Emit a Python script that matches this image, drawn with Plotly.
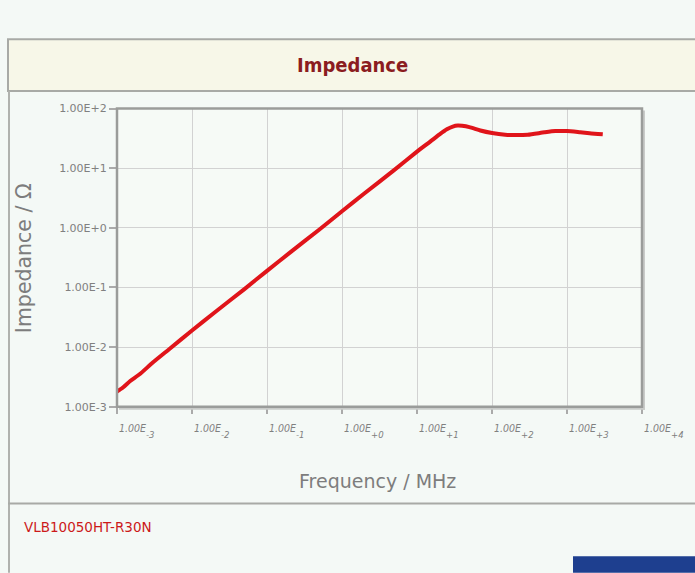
import plotly.graph_objects as go
import math

# Data (frequency in MHz, impedance in ohm)
freq_mhz = [0.001, 0.0012, 0.0015, 0.002, 0.003, 0.005, 0.01, 0.02, 0.05, 0.1, 0.2, 0.5,
            1, 2, 5, 10, 15, 20, 25, 30, 35, 40, 50, 70, 100, 150, 200, 300, 500, 700,
            1000, 1500, 2000, 3000]
impedance_ohm = [0.0018, 0.0021, 0.0027, 0.0035, 0.0055, 0.0093, 0.019, 0.038, 0.094, 0.19,
                 0.38, 0.94, 1.9, 3.8, 9.4, 19, 28, 37, 45, 50, 52, 51.5, 49, 43, 39,
                 36.5, 36, 36.5, 40, 42, 42, 40, 38.5, 37]

x_tick_vals = [1e-3, 1e-2, 1e-1, 1e0, 1e1, 1e2, 1e3, 1e4]
x_tick_mant = ["1.00E"] * 8
x_tick_exp = ["-3", "-2", "-1", "+0", "+1", "+2", "+3", "+4"]
y_tick_vals = [1e-3, 1e-2, 1e-1, 1e0, 1e1, 1e2]
y_tick_text = ["1.00E-3", "1.00E-2", "1.00E-1", "1.00E+0", "1.00E+1", "1.00E+2"]

W, H = 695, 573
x0, x1, y0, y1 = 117, 642, 105, 410  # plot area in pixels
COND = "DejaVu Sans Condensed, DejaVu Sans"
SANS = "DejaVu Sans"

def px(x):
    return x / W

def py(y):
    return 1 - y / H

fig = go.Figure()
fig.add_trace(go.Scatter(
    x=freq_mhz, y=impedance_ohm, mode="lines",
    line=dict(color="#e0141a", width=4, shape="spline", smoothing=0.6),
    hoverinfo="x+y", showlegend=False,
))

fig.update_layout(
    width=W, height=H,
    margin=dict(l=0, r=0, t=0, b=0),
    paper_bgcolor="#f4f9f6",
    plot_bgcolor="#f6faf6",
    showlegend=False,
    xaxis=dict(
        type="log", range=[-3, 4], domain=[px(x0), px(x1)],
        tickvals=x_tick_vals, showticklabels=False,
        ticks="outside", ticklen=6, tickcolor="#aaaaaa", tickwidth=2,
        showgrid=True, gridcolor="#d2d2d2", gridwidth=1,
        showline=False, zeroline=False, anchor="y",
    ),
    yaxis=dict(
        type="log", range=[-3, 2], domain=[py(y1), py(y0)],
        tickvals=y_tick_vals, ticktext=y_tick_text,
        ticks="outside", ticklen=7, tickcolor="#aaaaaa", tickwidth=2,
        tickfont=dict(family=SANS, size=11, color="#808080"),
        showgrid=True, gridcolor="#d2d2d2", gridwidth=1,
        showline=False, zeroline=False, anchor="x",
    ),
)

shapes = []
shapes.append(dict(type="rect", xref="paper", yref="paper",
                   x0=px(8), x1=px(700), y0=py(87), y1=py(34),
                   fillcolor="#f7f7e8", line=dict(color="#a8aaa6", width=2), layer="below"))
shapes.append(dict(type="line", xref="paper", yref="paper",
                   x0=px(9), x1=px(9), y0=py(87), y1=py(580),
                   line=dict(color="#b0b2ae", width=2)))
shapes.append(dict(type="line", xref="paper", yref="paper",
                   x0=px(8), x1=px(700), y0=py(509), y1=py(509),
                   line=dict(color="#a8aaa6", width=2)))
shapes.append(dict(type="line", xref="paper", yref="paper",
                   x0=px(x1 + 2), x1=px(x1 + 2), y0=py(y0 + 2), y1=py(y1 + 3),
                   line=dict(color="#c9cbc9", width=2)))
shapes.append(dict(type="line", xref="paper", yref="paper",
                   x0=px(x0 + 2), x1=px(x1 + 3), y0=py(y1 + 2), y1=py(y1 + 2),
                   line=dict(color="#c9cbc9", width=2)))
shapes.append(dict(type="rect", xref="paper", yref="paper",
                   x0=px(x0), x1=px(x1), y0=py(y1), y1=py(y0),
                   line=dict(color="#9a9c9a", width=2.5), fillcolor="rgba(0,0,0,0)"))
shapes.append(dict(type="rect", xref="paper", yref="paper",
                   x0=px(573), x1=px(700), y0=py(580), y1=py(563),
                   fillcolor="#1e3f8f", line=dict(width=0)))
fig.update_layout(shapes=shapes)

def ann(text, x, y, size, color, family=SANS, angle=0, xanchor="center", xref="paper", xshift=0):
    return dict(text=text, x=x, y=y, xref=xref, yref="paper", textangle=angle,
                xanchor=xanchor, yanchor="middle", showarrow=False, xshift=xshift,
                font=dict(family=family, size=size, color=color))

annotations = [
    ann("<b>Impedance</b>", px(352), py(60), 20, "#8b1c20", family=COND),
    ann("Impedance / Ω", px(24), py(258), 20.5, "#7d7d7d", angle=-90),
    ann("Frequency / MHz", px(377), py(486), 19, "#7d7d7d"),
    ann("VLB10050HT-R30N", px(22), py(533), 13.5, "#cc1a1a", xanchor="left"),
]
for v, m, e in zip(x_tick_vals, x_tick_mant, x_tick_exp):
    annotations.append(ann("<i>" + m + "</i>", math.log10(v), py(432), 10.5, "#808080",
                           family=COND, xanchor="left", xref="x"))
    annotations.append(ann("<i>" + e + "</i>", math.log10(v), py(438), 9.5, "#808080",
                           family=COND, xanchor="left", xref="x", xshift=27))
fig.update_layout(annotations=annotations)

fig.write_html("out.html", config={"displayModeBar": False},
               post_script="document.body.style.margin='0';document.body.style.overflow='hidden';")
